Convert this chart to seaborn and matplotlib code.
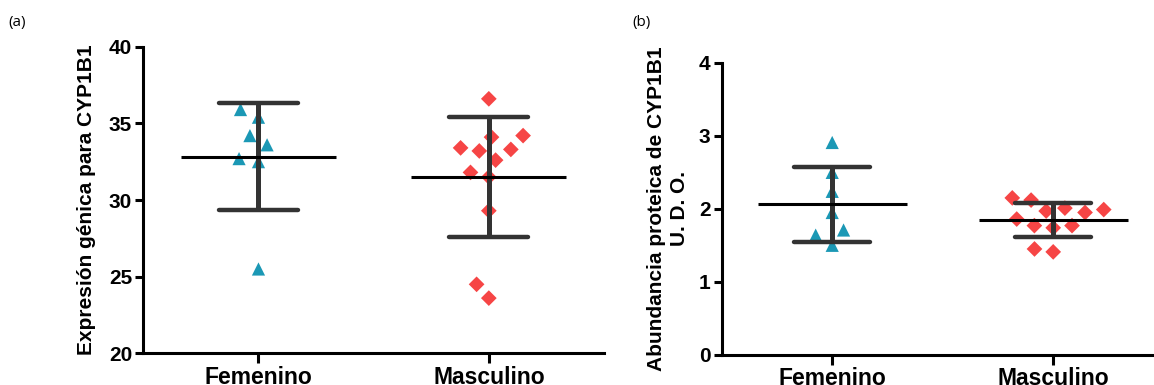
import numpy as np
import pandas as pd
import matplotlib
matplotlib.use("Agg")
import matplotlib.pyplot as plt
import seaborn as sns

# ---------------- data ----------------
categorias = ["Femenino", "Masculino"]
expr_femenino = [35.9, 35.4, 34.2, 33.6, 32.7, 32.5, 25.5]
expr_masculino = [36.6, 34.1, 34.2, 33.3, 33.2, 33.4, 32.6, 31.8, 31.5, 29.3, 24.5, 23.6]
prot_femenino = [2.91, 2.50, 2.24, 1.95, 1.71, 1.64, 1.50]
prot_masculino = [1.97, 1.86, 2.12, 1.77, 1.99, 1.74, 2.01, 1.77, 2.15, 1.95, 1.41, 1.45]
ticks_a = [20, 25, 30, 35, 40]
ticks_b = [0, 1, 2, 3, 4]
ylabel_a = "Expresión génica para CYP1B1"
ylabel_b = "Abundancia proteica de CYP1B1\nU. D. O."

# ---------------- style ----------------
sns.set_style("ticks")
plt.rcParams["font.family"] = ["Liberation Sans", "DejaVu Sans"]
plt.rcParams["text.color"] = "black"
plt.rcParams["axes.labelcolor"] = "black"
plt.rcParams["xtick.color"] = "black"
plt.rcParams["ytick.color"] = "black"

COL_F = "#1b98b5"
COL_M = "#f64545"
BAR = "#333333"


def make_df(fem, masc):
    return pd.DataFrame({
        "grupo": ["Femenino"] * len(fem) + ["Masculino"] * len(masc),
        "valor": list(fem) + list(masc),
    })


fig = plt.figure(figsize=(11.54, 3.85), dpi=100)
ax_a = fig.add_axes([143.3 / 1154, 1 - 353.3 / 385, 460.7 / 1154, (353.3 - 46.7) / 385])
ax_b = fig.add_axes([721.7 / 1154, 1 - 354.7 / 385, 442 / 1154, (354.7 - 63) / 385])


def panel(ax, fem, masc, ylim, ticks, ylabel, label_x):
    df = make_df(fem, masc)
    ax.set_ylim(*ylim)
    ax.set_xlim(-0.5, 1.5)
    sns.swarmplot(data=df[df.grupo == "Femenino"], x="grupo", y="valor", order=categorias,
                  marker="^", color=COL_F, size=9.5, linewidth=4.0, edgecolor="none",
                  ax=ax, zorder=2)
    sns.swarmplot(data=df[df.grupo == "Masculino"], x="grupo", y="valor", order=categorias,
                  marker="D", color=COL_M, size=8.0, linewidth=5.0, edgecolor="none",
                  ax=ax, zorder=2)
    stats = df.groupby("grupo")["valor"].agg(["mean", "std"]).reindex(categorias)
    for i, (m, s) in enumerate(zip(stats["mean"], stats["std"])):
        ax.plot([i, i], [m - s, m + s], color=BAR, lw=3.6, solid_capstyle="butt", zorder=3)
        for yv in (m - s, m + s):
            ax.plot([i - 0.172, i + 0.172], [yv, yv], color=BAR, lw=3.2,
                    solid_capstyle="round", zorder=3)
        ax.plot([i - 0.337, i + 0.337], [m, m], color="black", lw=2.2,
                solid_capstyle="butt", zorder=4)
    ax.set_xlim(-0.5, 1.5)
    ax.set_ylim(*ylim)
    ax.set_yticks(ticks)
    ax.set_xticks(range(len(categorias)))
    ax.set_xticklabels(categorias)
    ax.set_xlabel("")
    ax.set_ylabel(ylabel, fontsize=15, fontweight="bold", linespacing=1.25, color="black")
    ax.yaxis.set_label_coords(label_x, 0.5)
    sns.despine(ax=ax)
    for sp in ("left", "bottom"):
        ax.spines[sp].set_linewidth(2.2)
        ax.spines[sp].set_color("black")
    ax.tick_params(axis="y", length=6, width=2.2, pad=2, labelsize=15,
                   color="black", labelcolor="black")
    ax.tick_params(axis="x", length=7, width=2.2, pad=2, labelsize=16.5,
                   color="black", labelcolor="black")
    for t in ax.get_xticklabels() + ax.get_yticklabels():
        t.set_fontweight("bold")


panel(ax_a, expr_femenino, expr_masculino, (20, 40), ticks_a, ylabel_a, -0.103)
panel(ax_b, prot_femenino, prot_masculino, (0, 4), ticks_b, ylabel_b, -0.074)

fig.text(8 / 1154, 1 - 15 / 385, "(a)", fontsize=11, va="top", ha="left",
         family=["Open Sans", "DejaVu Sans"], color="black")
fig.text(632 / 1154, 1 - 15 / 385, "(b)", fontsize=11, va="top", ha="left",
         family=["Open Sans", "DejaVu Sans"], color="black")

fig.savefig("out.png", dpi=100)
